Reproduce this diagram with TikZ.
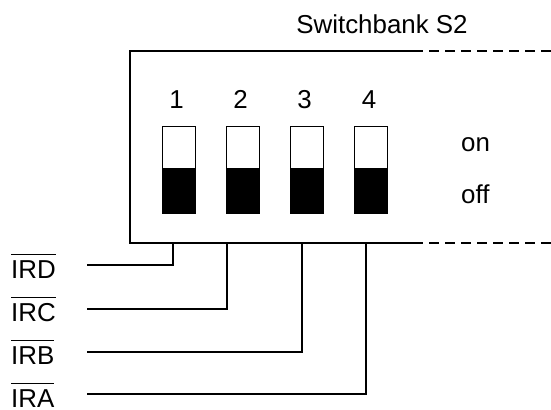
\documentclass[tikz,border=0pt]{standalone}
\usepackage{fontspec}
\setmainfont{Liberation Sans}
\newcommand\ovl[1]{\leavevmode\vbox{\hrule height 1.4pt\kern 5pt\hbox{#1}}}
\begin{document}
\begin{tikzpicture}[x=1bp,y=-1bp,
  txt/.style={inner sep=0pt, font=\fontsize{26}{30}\selectfont},
  knobup/.style={draw, fill=white, line width=1bp, minimum width=33bp, minimum height=42bp, inner sep=0pt},
  knobdown/.style={draw, fill=black, line width=1bp, minimum width=33bp, minimum height=45bp, inner sep=0pt},
  wire/.style={line width=1.3bp},
  ext/.style={line width=1.3bp, dash pattern=on 10bp off 6bp}]
\useasboundingbox (0,0) rectangle (551,409);
% box outline
\coordinate (tl) at (130,51);
\coordinate (bl) at (130,243);
\coordinate (ts) at (413,51);
\coordinate (bs) at (413,243);
\coordinate (te) at (551,51);
\coordinate (be) at (551,243);
\draw[wire] (ts) -- (tl) -- (bl) -- (bs);
\draw[ext] (ts) -- (te);
\draw[ext] (bs) -- (be);
% title
\node[txt, anchor=base] (title) at (382,33) {Switchbank S2};
% switches
\foreach \i/\x in {1/178.5, 2/242.5, 3/306.5, 4/371} {
  \node[knobup] (up\i) at (\x,147) {};
  \node[knobdown] (dn\i) at (\x,190.5) {};
  \node[txt, anchor=base] (num\i) at (\x-2,108) {\i};
}
\node[txt, anchor=base west] (on) at (461,151) {on};
\node[txt, anchor=base west] (off) at (461,203) {off};
% labels
\node[txt, anchor=base west] (ird) at (11,278) {\ovl{IRD}};
\node[txt, anchor=base west] (irc) at (11,321) {\ovl{IRC}};
\node[txt, anchor=base west] (irb) at (11,364) {\ovl{IRB}};
\node[txt, anchor=base west] (ira) at (11,407) {\ovl{IRA}};
% leads
\coordinate (l1) at (173,243); \coordinate (w1) at (87,265);
\coordinate (l2) at (227,243); \coordinate (w2) at (87,309);
\coordinate (l3) at (302,243); \coordinate (w3) at (87,352);
\coordinate (l4) at (366,243); \coordinate (w4) at (87,394);
\draw[wire] (l1) |- (w1);
\draw[wire] (l2) |- (w2);
\draw[wire] (l3) |- (w3);
\draw[wire] (l4) |- (w4);
\end{tikzpicture}
\end{document}
